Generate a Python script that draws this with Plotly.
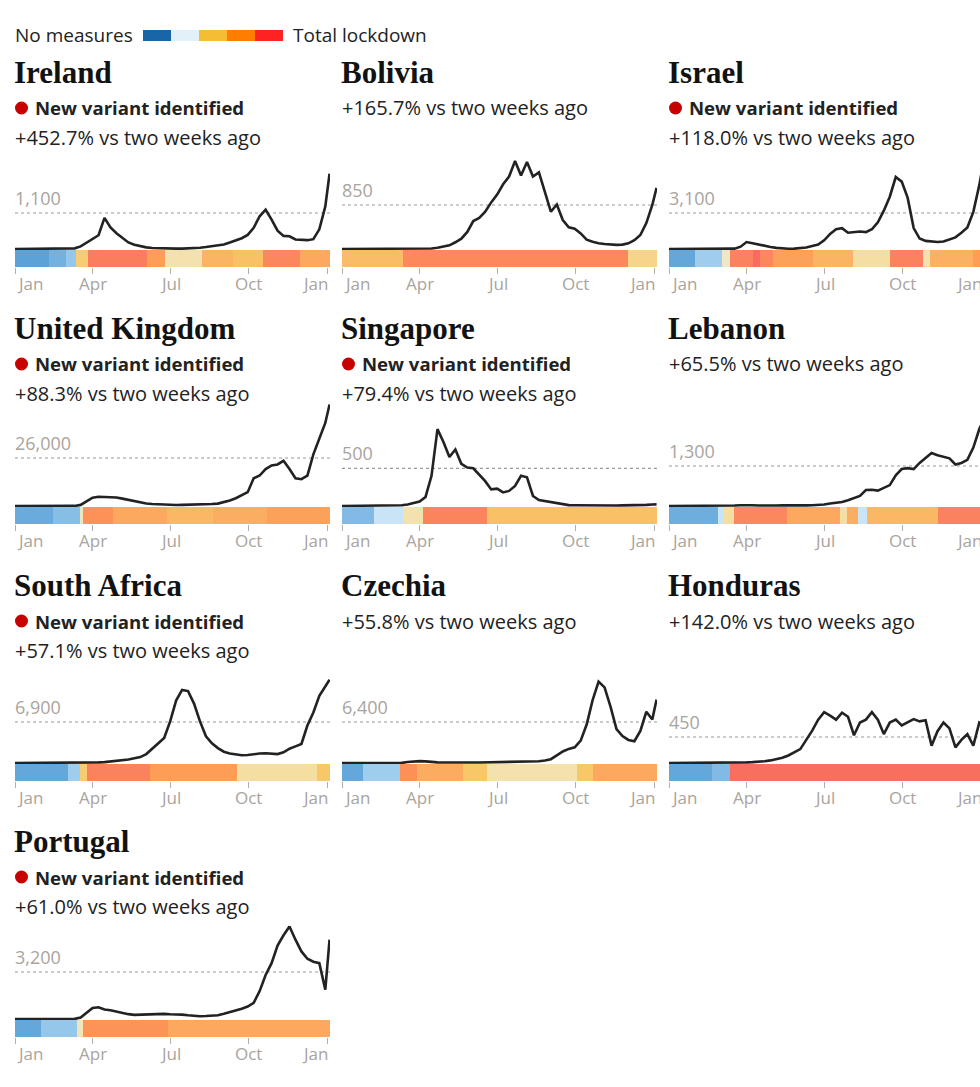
import pandas as pd
import plotly.graph_objects as go

W, H = 980, 1087

# ---------------- data ----------------
DATES = list(pd.date_range("2020-01-01", periods=53, freq="7D")) + [pd.Timestamp("2021-01-04")]

COUNTRIES = ["Ireland", "Bolivia", "Israel", "United Kingdom", "Singapore",
             "Lebanon", "South Africa", "Czechia", "Honduras", "Portugal"]
VARIANT = [True, False, True, True, True, False, True, False, False, True]
CHANGE = ["+452.7%", "+165.7%", "+118.0%", "+88.3%", "+79.4%",
          "+65.5%", "+57.1%", "+55.8%", "+142.0%", "+61.0%"]
REF_VALUE = [1100, 850, 3100, 26000, 500, 1300, 6900, 6400, 450, 3200]
REF_LABEL = ["1,100", "850", "3,100", "26,000", "500", "1,300", "6,900", "6,400", "450", "3,200"]

IRELAND = [0] * 9 + [5, 20, 80, 200, 320, 420, 950, 660, 480, 330, 200, 130, 80, 50, 30, 20, 15, 12, 10, 12,
                     15, 20, 40, 60, 90, 110, 140, 200, 260, 330, 430, 650, 1000, 1200, 900, 560, 400, 390, 290, 270,
                     270, 300, 600, 1300, 2300]
BOLIVIA = [0] * 13 + [2, 5, 10, 25, 50, 70, 130, 200, 330, 540, 600, 720, 900, 1050, 1250, 1400, 1700, 1420, 1680,
                      1400, 1480, 1100, 720, 860, 560, 420, 390, 300, 180, 140, 110, 95, 85, 80, 85, 110, 170, 270,
                      500, 850, 1180]
ISRAEL = [0] * 11 + [30, 200, 600, 500, 380, 280, 180, 100, 50, 25, 30, 60, 130, 250, 380, 750, 1300, 1700, 1800,
                     1400, 1450, 1500, 1450, 1700, 2300, 3300, 4500, 6200, 5800, 4400, 1800, 900, 700, 620, 600, 650,
                     800, 1000, 1400, 1850, 3200, 5500, 7500]
UK = [0] * 10 + [50, 600, 2500, 4500, 5000, 5000, 5000, 4600, 4000, 3300, 2700, 2000, 1400, 1100, 900, 700, 550, 550,
                 600, 650, 750, 850, 950, 1100, 1300, 2000, 3000, 4200, 5800, 7500, 15000, 16500, 20000, 22000, 22500,
                 24500, 20000, 15000, 14500, 16500, 28000, 36000, 45000, 55000]
SINGAPORE = [0, 0, 0, 2, 3, 3, 3, 3, 3, 5, 10, 20, 40, 60, 120, 400, 1020, 850, 650, 750, 560, 510, 500, 420, 330,
             220, 230, 180, 200, 266, 400, 380, 133, 80, 65, 50, 40, 20, 12, 10, 8, 6, 5, 5, 5, 6, 6, 8, 8, 10, 12,
             15, 20, 22]
LEBANON = [0] * 9 + [3, 8, 15, 25, 30, 25, 15, 10, 10, 15, 20, 15, 15, 15, 20, 25, 30, 50, 80, 100, 130, 190, 250,
                     330, 520, 530, 500, 580, 680, 1000, 1200, 1230, 1200, 1400, 1550, 1720, 1650, 1600, 1550, 1350,
                     1400, 1500, 1900, 2500, 2800]
SOUTH_AFRICA = [0] * 10 + [5, 30, 80, 100, 100, 150, 250, 350, 450, 600, 800, 1000, 1500, 2400, 3300, 4200, 7000,
                           10500, 12300, 12100, 10000, 7000, 4500, 3300, 2500, 1900, 1600, 1400, 1300, 1350, 1500,
                           1600, 1650, 1600, 1500, 1800, 2400, 2800, 3200, 6300, 8500, 11300, 12800, 14000]
CZECHIA = [0] * 10 + [20, 150, 250, 300, 250, 150, 100, 80, 60, 60, 60, 60, 70, 80, 100, 120, 100, 110, 130, 200,
                      220, 250, 280, 280, 400, 600, 1200, 1800, 2200, 2450, 3500, 6000, 9800, 12700, 11800, 8800,
                      5300, 4200, 3600, 3400, 5000, 8000, 6800, 9900]
HONDURAS = [0] * 11 + [2, 5, 10, 15, 20, 30, 45, 65, 90, 130, 180, 240, 400, 560, 750, 880, 820, 750, 870, 800, 480,
                       700, 750, 880, 750, 500, 700, 750, 650, 700, 760, 720, 740, 300, 550, 700, 600, 270, 400, 500,
                       300, 700, 650]
PORTUGAL = [0] * 10 + [10, 100, 400, 750, 800, 650, 600, 500, 400, 330, 280, 300, 320, 330, 340, 350, 320, 330, 300,
                       250, 200, 190, 200, 230, 250, 350, 450, 600, 700, 850, 1100, 1900, 3000, 3800, 5000, 5700,
                       6300, 5400, 4600, 4100, 3900, 3800, 2000, 5400]
CASES = [IRELAND, BOLIVIA, ISRAEL, UK, SINGAPORE, LEBANON, SOUTH_AFRICA, CZECHIA, HONDURAS, PORTUGAL]

# stringency periods: edges (dates) and level (0 = no measures, 100 = total lockdown)
IRELAND_EDGES = ["2020-01-01", "2020-02-10", "2020-03-01", "2020-03-13", "2020-03-27", "2020-06-04", "2020-06-25",
                 "2020-08-07", "2020-09-13", "2020-10-18", "2020-11-30", "2021-01-05"]
IRELAND_LEVELS = [6, 11, 18, 50, 88, 74, 40, 62, 56, 84, 68]
BOLIVIA_EDGES = ["2020-01-01", "2020-03-12", "2020-12-01", "2021-01-05"]
BOLIVIA_LEVELS = [58, 83, 46]
ISRAEL_EDGES = ["2020-01-01", "2020-01-31", "2020-03-03", "2020-03-13", "2020-04-09", "2020-04-17", "2020-05-02",
                "2020-06-18", "2020-08-04", "2020-09-16", "2020-10-25", "2020-11-02", "2020-12-23", "2021-01-05"]
ISRAEL_LEVELS = [8, 20, 36, 86, 95, 84, 72, 62, 42, 86, 40, 64, 74]
UK_EDGES = ["2020-01-01", "2020-02-15", "2020-03-17", "2020-03-21", "2020-04-25", "2020-06-27", "2020-08-20",
            "2020-10-23", "2021-01-05"]
UK_LEVELS = [9, 15, 38, 79, 68, 60, 65, 72]
SINGAPORE_EDGES = ["2020-01-01", "2020-02-07", "2020-03-12", "2020-04-05", "2020-06-19", "2021-01-05"]
SINGAPORE_LEVELS = [14, 25, 40, 85, 56]
LEBANON_EDGES = ["2020-01-01", "2020-02-28", "2020-03-05", "2020-03-17", "2020-05-18", "2020-07-20", "2020-07-28",
                 "2020-08-10", "2020-08-20", "2020-11-12", "2021-01-05"]
LEBANON_LEVELS = [10, 25, 42, 84, 68, 42, 65, 25, 60, 86]
SOUTH_AFRICA_EDGES = ["2020-01-01", "2020-03-03", "2020-03-17", "2020-03-25", "2020-06-07", "2020-09-17",
                      "2020-12-20", "2021-01-05"]
SOUTH_AFRICA_LEVELS = [8, 20, 50, 86, 74, 42, 52]
CZECHIA_EDGES = ["2020-01-01", "2020-01-26", "2020-03-09", "2020-03-29", "2020-05-22", "2020-06-19", "2020-10-03",
                 "2020-10-21", "2021-01-05"]
CZECHIA_LEVELS = [8, 20, 80, 66, 52, 40, 52, 68]
HONDURAS_EDGES = ["2020-01-01", "2020-02-20", "2020-03-13", "2021-01-05"]
HONDURAS_LEVELS = [8, 14, 94]
PORTUGAL_EDGES = ["2020-01-01", "2020-01-31", "2020-03-14", "2020-03-21", "2020-06-29", "2021-01-05"]
PORTUGAL_LEVELS = [8, 18, 38, 78, 68]
STRIP_EDGES = [IRELAND_EDGES, BOLIVIA_EDGES, ISRAEL_EDGES, UK_EDGES, SINGAPORE_EDGES, LEBANON_EDGES,
               SOUTH_AFRICA_EDGES, CZECHIA_EDGES, HONDURAS_EDGES, PORTUGAL_EDGES]
STRIP_LEVELS = [IRELAND_LEVELS, BOLIVIA_LEVELS, ISRAEL_LEVELS, UK_LEVELS, SINGAPORE_LEVELS, LEBANON_LEVELS,
                SOUTH_AFRICA_LEVELS, CZECHIA_LEVELS, HONDURAS_LEVELS, PORTUGAL_LEVELS]

TICK_DATES = ["2020-01-01", "2020-04-01", "2020-07-01", "2020-10-01", "2021-01-01"]
TICK_TEXT = ["Jan", "Apr", "Jul", "Oct", "Jan"]

# ---------------- styling / layout constants ----------------
STRIP_SCALE = [[0.00, "#3d8fcf"], [0.20, "#9fcdee"], [0.28, "#e3f1fb"], [0.40, "#f4e2ae"],
               [0.52, "#f8c868"], [0.64, "#fbb063"], [0.75, "#fd9b55"], [0.86, "#fb825e"], [1.00, "#f7605d"]]
LEGEND_COLORS = ["#1866a8", "#e2f0fa", "#f5bd33", "#ff7d00", "#ff2222"]
SANS = "Open Sans"
SERIF = "Liberation Serif"
TEXT = "#222222"
GREY = "#a9a49d"

COL_LEFT = [15, 342, 669]
PANEL_W = 315
BASE = [249, 506, 763, 1019]          # pixel row of the zero line
TITLE_Y = [72, 328, 585, 841]
DOT_OFF = [36, 44, 36, 48, 37.7, 40, 41, 41, 26, 47]  # px between zero and reference line
PX_PER_DAY = 312 / 366
START = pd.Timestamp("2020-01-01")
PAD = 2  # annotation inner padding compensation


def fx(px):
    return px / W


def fy(py):
    return 1 - py / H


fig = go.Figure()
layout = dict(width=W, height=H, margin=dict(l=0, r=0, t=0, b=0),
              paper_bgcolor="white", plot_bgcolor="white", showlegend=False,
              hovermode=False, annotations=[], shapes=[])
ann = layout["annotations"]
shp = layout["shapes"]

# legend row
ann.append(dict(x=fx(15 - PAD), y=fy(35), xref="paper", yref="paper", text="No measures", showarrow=False,
                xanchor="left", yanchor="middle", font=dict(family=SANS, size=19, color=TEXT)))
for i, col in enumerate(LEGEND_COLORS):
    shp.append(dict(type="rect", xref="paper", yref="paper", x0=fx(143 + 28 * i), x1=fx(143 + 28 * (i + 1)),
                    y0=fy(41), y1=fy(30), fillcolor=col, line=dict(width=0)))
ann.append(dict(x=fx(293 - PAD), y=fy(35), xref="paper", yref="paper", text="Total lockdown", showarrow=False,
                xanchor="left", yanchor="middle", font=dict(family=SANS, size=19, color=TEXT)))

for k, name in enumerate(COUNTRIES):
    r, c = divmod(k, 3)
    left = COL_LEFT[c]
    right = min(left + PANEL_W, W)
    base = BASE[r]
    n = k + 1
    xa = "x" if n == 1 else f"x{n}"
    yl = "y" if n == 1 else f"y{n}"
    ys = f"y{n + 10}"
    xkey = "xaxis" if n == 1 else f"xaxis{n}"
    ylkey = "yaxis" if n == 1 else f"yaxis{n}"
    yskey = f"yaxis{n + 10}"

    pp = REF_VALUE[k] / DOT_OFF[k]
    end = START + pd.Timedelta(days=(right - left) / PX_PER_DAY)

    layout[xkey] = dict(domain=[fx(left), fx(right)], type="date", range=[START, end], anchor=ys,
                        showgrid=False, zeroline=False, showline=False, showticklabels=False,
                        ticks="outside", ticklen=6, tickwidth=1, tickcolor="#b5b0a8",
                        tickmode="array", tickvals=TICK_DATES, fixedrange=True)
    layout[ylkey] = dict(domain=[fy(base + 2), fy(base - 125)], range=[-2 * pp, 125 * pp], anchor=xa,
                         visible=False, fixedrange=True)
    layout[yskey] = dict(domain=[fy(base + 18), fy(base + 1)], range=[0, 1], anchor=xa,
                         visible=False, fixedrange=True)

    fig.add_trace(go.Heatmap(z=[STRIP_LEVELS[k]], x=STRIP_EDGES[k], y=[0, 1], colorscale=STRIP_SCALE,
                             zmin=0, zmax=100, showscale=False, xaxis=xa, yaxis=ys, hoverinfo="skip"))
    fig.add_trace(go.Scatter(x=DATES, y=CASES[k], mode="lines", line=dict(color="#222222", width=2.6),
                             xaxis=xa, yaxis=yl, hoverinfo="skip"))

    # reference dotted line + label
    shp.append(dict(type="line", xref=f"{xa} domain", yref=yl, x0=0, x1=1, y0=REF_VALUE[k], y1=REF_VALUE[k],
                    line=dict(color="#9a9a9a", width=1.2, dash="dot"), layer="below"))
    ann.append(dict(xref=f"{xa} domain", yref=yl, x=0, y=REF_VALUE[k], text=REF_LABEL[k], showarrow=False,
                    xanchor="left", yanchor="bottom", yshift=1, xshift=-PAD,
                    font=dict(family=SANS, size=18, color=GREY)))

    # titles
    ty = TITLE_Y[r]
    ann.append(dict(x=fx(left - PAD - 1), y=fy(ty), xref="paper", yref="paper", text=f"<b>{name}</b>",
                    showarrow=False, xanchor="left", yanchor="middle",
                    font=dict(family=SERIF, size=31, color="#121212")))
    line_y = ty + 36
    if VARIANT[k]:
        shp.append(dict(type="circle", xref="paper", yref="paper", x0=fx(left), x1=fx(left + 13),
                        y0=fy(line_y + 6.5), y1=fy(line_y - 6.5), fillcolor="#c70000", line=dict(width=0)))
        ann.append(dict(x=fx(left + 20 - PAD), y=fy(line_y), xref="paper", yref="paper",
                        text="<b>New variant identified</b>", showarrow=False, xanchor="left",
                        yanchor="middle", font=dict(family=SANS, size=18.6, color=TEXT)))
        line_y += 29
    ann.append(dict(x=fx(left - PAD), y=fy(line_y), xref="paper", yref="paper",
                    text=f"{CHANGE[k]} vs two weeks ago", showarrow=False, xanchor="left",
                    yanchor="middle", font=dict(family=SANS, size=20, color=TEXT)))

    # tick labels
    for j, (td, tt) in enumerate(zip(TICK_DATES, TICK_TEXT)):
        px = left + (pd.Timestamp(td) - START).days * PX_PER_DAY
        if j == 0:
            anchor, px = "left", px
        elif j == len(TICK_DATES) - 1:
            anchor, px = "right", px + 3
        else:
            anchor = "center"
        ann.append(dict(x=fx(px), y=fy(base + 34), xref="paper", yref="paper", text=tt, showarrow=False,
                        xanchor=anchor, yanchor="middle", font=dict(family=SANS, size=17, color=GREY)))

fig.update_layout(**layout)
fig.write_html("out.html")
